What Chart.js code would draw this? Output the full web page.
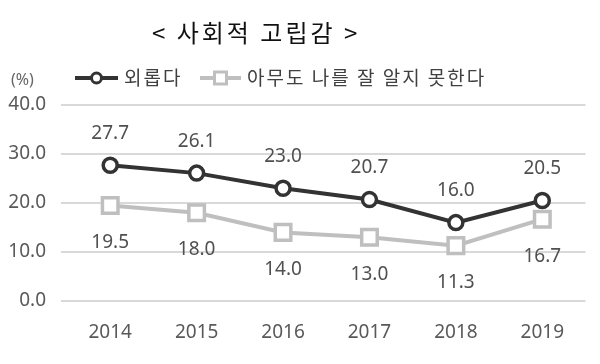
<!DOCTYPE html>
<html>
<head>
<meta charset="utf-8">
<script src="https://cdn.jsdelivr.net/npm/chart.js@4/dist/chart.umd.min.js"></script>
<style>
  html, body { margin: 0; padding: 0; background: #fff; }
  #wrap { position: relative; width: 600px; height: 364px; }
  #title { position: absolute; left: 152px; top: 14px; font: 24px "Noto Sans CJK KR", sans-serif; letter-spacing: 3px; color: #111; white-space: pre; }
  #unit { position: absolute; left: 11px; top: 68px; font: 16px "Noto Sans", sans-serif; color: #666; }
</style>
</head>
<body>
<div id="wrap">
  <canvas id="chart" width="600" height="364"></canvas>
  <div id="title">&lt; 사회적 고립감 &gt;</div>
  <div id="unit">(%)</div>
</div>
<script>
const years = ['2014', '2015', '2016', '2017', '2018', '2019'];
const lonely = [27.7, 26.1, 23.0, 20.7, 16.0, 20.5];
const nobodyKnows = [19.5, 18.0, 14.0, 13.0, 11.3, 16.7];
const seriesNames = ['외롭다', '아무도 나를 잘 알지 못한다'];
const yTicks = [0, 10, 20, 30, 40];

const fontKr = '"Noto Sans CJK KR", sans-serif';

// étiquettes de valeurs + légende dessinées à la main
const labelPlugin = {
  id: 'labelPlugin',
  afterDatasetsDraw(chart) {
    const ctx = chart.ctx;
    ctx.save();
    ctx.font = '19px "Noto Sans", sans-serif';
    ctx.fillStyle = '#505050';
    ctx.textAlign = 'center';
    ctx.textBaseline = 'middle';
    chart.data.datasets.forEach((ds, i) => {
      const meta = chart.getDatasetMeta(i);
      meta.data.forEach((pt, j) => {
        const dy = i === 0 ? -32 : 37;
        ctx.fillText(ds.data[j].toFixed(1), pt.x, pt.y + dy);
      });
    });
    ctx.restore();
  },
  afterDraw(chart) {
    const ctx = chart.ctx;
    const items = [
      { x0: 75, x1: 118, tx: 124 },
      { x0: 200, x1: 241, tx: 247 }
    ];
    const y = 78;
    ctx.save();
    chart.data.datasets.forEach((ds, i) => {
      const it = items[i];
      ctx.strokeStyle = ds.borderColor;
      ctx.lineWidth = 4;
      ctx.beginPath();
      ctx.moveTo(it.x0, y);
      ctx.lineTo(it.x1, y);
      ctx.stroke();
      const cx = (it.x0 + it.x1) / 2;
      ctx.fillStyle = '#fff';
      ctx.lineWidth = 3;
      ctx.beginPath();
      if (ds.pointStyle === 'circle') {
        ctx.arc(cx, y, 5, 0, Math.PI * 2);
      } else {
        ctx.rect(cx - 6, y - 6, 12, 12);
      }
      ctx.fill();
      ctx.stroke();
      ctx.fillStyle = '#404040';
      ctx.font = '19px ' + fontKr;
      ctx.letterSpacing = '2px';
      ctx.textAlign = 'left';
      ctx.textBaseline = 'middle';
      ctx.fillText(ds.label, it.tx, y);
    });
    ctx.restore();
  }
};

new Chart(document.getElementById('chart'), {
  type: 'line',
  data: {
    labels: years,
    datasets: [
      {
        label: seriesNames[0],
        data: lonely,
        borderColor: '#333333',
        backgroundColor: '#ffffff',
        borderWidth: 4,
        pointStyle: 'circle',
        pointRadius: 7,
        pointBorderWidth: 3.5,
        pointBackgroundColor: '#ffffff',
        pointBorderColor: '#333333'
      },
      {
        label: seriesNames[1],
        data: nobodyKnows,
        borderColor: '#bfbfbf',
        backgroundColor: '#ffffff',
        borderWidth: 4,
        pointStyle: 'rect',
        pointRadius: 11,
        pointBorderWidth: 3.5,
        pointBackgroundColor: '#ffffff',
        pointBorderColor: '#bfbfbf'
      }
    ]
  },
  options: {
    responsive: false,
    animation: false,
    layout: { padding: { top: 105, right: 7, left: 0, bottom: 0 } },
    plugins: {
      legend: { display: false },
      tooltip: { enabled: false }
    },
    scales: {
      x: {
        offset: true,
        grid: { display: false, drawTicks: false },
        border: { display: false },
        ticks: {
          padding: 20,
          color: '#595959',
          font: { size: 19, family: '"Noto Sans", sans-serif' }
        },
        afterFit(scale) { scale.height = 63; }
      },
      y: {
        min: 0,
        max: 40,
        afterBuildTicks(scale) { scale.ticks = yTicks.map(v => ({ value: v })); },
        grid: { color: '#d9d9d9', lineWidth: 2, tickLength: 6 },
        border: { display: false },
        ticks: {
          padding: 15,
          color: '#595959',
          font: { size: 19, family: '"Noto Sans", sans-serif' },
          callback: v => v.toFixed(1)
        },
        afterFit(scale) { scale.width = 67; }
      }
    }
  },
  plugins: [labelPlugin]
});
</script>
</body>
</html>
